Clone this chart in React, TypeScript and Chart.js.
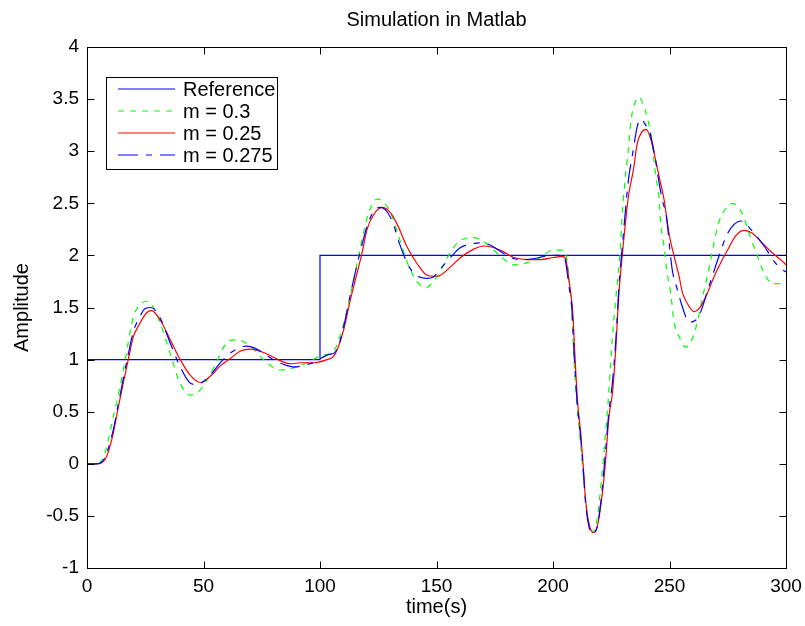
import React, { useEffect, useRef } from "react";
import { Chart, registerables } from "chart.js";

Chart.register(...registerables);

const titleText = "Simulation in Matlab";
const xLabel = "time(s)";
const yLabel = "Amplitude";
const seriesLabels = ["Reference", "m = 0.3", "m = 0.25", "m = 0.275"];
const seriesColors = ["#0000ff", "#00ff00", "#ff0000", "#0000ff"];
const seriesDashes: number[][] = [[], [6, 6], [], [20, 8, 6, 8]];
const xTicks = [0, 50, 100, 150, 200, 250, 300];
const yTicks = [-1, -0.5, 0, 0.5, 1, 1.5, 2, 2.5, 3, 3.5, 4];

const refT = [0, 100, 100, 300];
const refY = [1, 1, 2, 2];

const m30T = [0, 3.5, 7, 11.3, 15.6, 19.9, 22.5, 25.6, 28, 31.4, 35.7, 40, 44.3, 48.6, 54.3, 60, 64.3, 70, 77.2, 82.9, 88.6, 94.4, 100.9, 105.8, 110.2, 114.5, 118, 120.9, 124.5, 127.3, 130.5, 133.8, 138.8, 145.2, 150.3, 156, 160, 166, 171.7, 177.5, 183.2, 189, 194.7, 199.7, 204, 206, 207, 208, 209, 210.3, 211.8, 213, 214.2, 215.4, 217, 218.8, 220.6, 222, 223.5, 225.5, 227, 228.6, 229.8, 231.2, 232.2, 233, 234, 235.5, 237, 238.5, 240.5, 242.6, 243.4, 244.1, 245.5, 246.2, 247.7, 248.8, 250.5, 252, 254.1, 257, 260.6, 264.9, 267.7, 269.9, 272, 274.2, 277, 281, 284.5, 287.8, 290.6, 294.2, 298.6, 300];
const m30Y = [0, 0, 0.06, 0.45, 0.9, 1.41, 1.52, 1.56, 1.52, 1.35, 1.06, 0.77, 0.66, 0.71, 0.92, 1.16, 1.19, 1.13, 0.97, 0.9, 0.92, 0.97, 1.04, 1.08, 1.35, 1.77, 2.15, 2.41, 2.54, 2.51, 2.4, 2.18, 1.86, 1.69, 1.8, 2.03, 2.14, 2.17, 2.11, 1.99, 1.91, 1.93, 1.98, 2.05, 2.05, 1.96, 1.75, 1.5, 1.0, 0.55, 0.2, -0.1, -0.4, -0.58, -0.65, -0.55, -0.2, 0.15, 0.55, 1.22, 1.6, 1.98, 2.42, 2.79, 2.98, 3.2, 3.37, 3.48, 3.52, 3.46, 3.32, 3.08, 2.9, 2.76, 2.55, 2.31, 2.08, 1.86, 1.64, 1.35, 1.22, 1.12, 1.25, 1.67, 1.96, 2.21, 2.37, 2.45, 2.5, 2.41, 2.19, 1.99, 1.83, 1.73, 1.73, 1.74];

const m25T = [0, 4, 7.7, 10.6, 13.5, 15.6, 17.7, 19.9, 22, 25.6, 27.7, 31.4, 35.7, 40, 44.3, 48.6, 52.9, 57.2, 61.5, 65.7, 70, 74.3, 78.6, 82.9, 87.2, 91.5, 97.2, 103, 105.8, 108, 110.2, 113, 115.9, 118, 120.2, 123, 126.6, 130.2, 133.1, 137.4, 141.7, 146, 150.3, 156, 160.3, 166, 170.3, 177.5, 183.2, 189, 194.7, 200.3, 204, 205.4, 206.1, 206.8, 207.6, 208.5, 209.3, 210.5, 211.9, 213, 214, 215.4, 217.2, 219, 221.2, 222.6, 224, 225.5, 226.9, 228.3, 229.8, 232.4, 234.5, 236.2, 238, 240, 241.9, 244, 245.5, 247.7, 249.8, 252, 254.1, 255.6, 258.4, 260.6, 263.4, 266.3, 269.2, 272, 274.9, 278.5, 282.1, 285.7, 289.3, 292.9, 298.6, 300];
const m25Y = [0, 0, 0.04, 0.23, 0.55, 0.78, 1.0, 1.22, 1.32, 1.45, 1.47, 1.38, 1.19, 1.0, 0.85, 0.78, 0.84, 0.94, 1.01, 1.08, 1.1, 1.08, 1.04, 0.99, 0.96, 0.97, 0.97, 1.0, 1.03, 1.13, 1.29, 1.57, 1.83, 2.02, 2.25, 2.39, 2.46, 2.41, 2.3, 2.08, 1.92, 1.81, 1.8, 1.89, 1.98, 2.06, 2.09, 2.05, 1.98, 1.96, 1.96, 1.98, 1.99, 1.97, 1.89, 1.77, 1.64, 1.45, 1.09, 0.61, 0.29, -0.03, -0.35, -0.57, -0.66, -0.6, -0.28, 0.04, 0.45, 0.68, 1.09, 1.64, 2.02, 2.57, 2.82, 3.08, 3.18, 3.21, 3.12, 2.92, 2.76, 2.53, 2.21, 1.99, 1.8, 1.64, 1.51, 1.46, 1.51, 1.64, 1.8, 1.93, 2.05, 2.19, 2.24, 2.21, 2.13, 2.05, 1.94, 1.91];

const m275T = [0, 4, 7.5, 11, 13.5, 15.6, 17.7, 19.9, 22, 25, 27.5, 31.4, 35.7, 40, 44, 47, 50, 54, 58, 62, 66, 68.6, 72, 76, 80, 85, 89, 94, 98, 101, 104, 106, 108, 110.2, 113, 116, 118, 120.5, 123, 125.5, 128, 131, 134, 138, 142, 146, 148.5, 152, 156, 160, 164.5, 168.9, 173, 178, 183, 188, 192, 196, 200, 204, 205.3, 206, 207, 208, 209, 210.4, 211.9, 213, 214, 215.4, 217.2, 219, 221, 222.4, 224, 225.5, 227, 228.3, 229.8, 232.4, 234, 236.2, 237.8, 239.5, 241.4, 243.5, 245.5, 247, 248.5, 251.2, 253.4, 255.6, 258.4, 261.3, 263.4, 266.9, 271.2, 274.9, 280.6, 284.9, 290.6, 295, 297, 300];
const m275Y = [0, 0, 0.05, 0.3, 0.58, 0.82, 1.05, 1.27, 1.38, 1.49, 1.5, 1.4, 1.16, 0.93, 0.78, 0.76, 0.79, 0.88, 0.99, 1.07, 1.12, 1.13, 1.11, 1.06, 1.0, 0.95, 0.93, 0.95, 0.98, 1.02, 1.05, 1.06, 1.14, 1.32, 1.62, 1.92, 2.1, 2.3, 2.42, 2.46, 2.44, 2.33, 2.12, 1.9, 1.8, 1.78, 1.79, 1.88, 1.98, 2.07, 2.11, 2.12, 2.1, 2.03, 1.97, 1.96, 1.97, 1.99, 2.0, 2.0, 1.95, 1.85, 1.68, 1.52, 1.08, 0.58, 0.25, -0.06, -0.38, -0.6, -0.67, -0.6, -0.27, 0.08, 0.5, 0.78, 1.2, 1.7, 2.1, 2.73, 2.95, 3.24, 3.31, 3.26, 3.19, 2.98, 2.7, 2.52, 2.4, 1.86, 1.67, 1.5, 1.36, 1.38, 1.46, 1.7, 1.99, 2.21, 2.33, 2.25, 2.09, 1.94, 1.89, 1.84];

const FONT = '"Liberation Sans", Arial, Helvetica, sans-serif';
const LINE_W = 1.2;

function pts(t: number[], y: number[]) {
  return t.map((x, i) => ({ x, y: y[i] }));
}

const framePlugin = {
  id: "matlabFrame",
  afterDraw(chart: any) {
    const { ctx, chartArea: a, scales } = chart;
    const L = Math.round(a.left) + 0.5;
    const R = Math.round(a.right) + 0.5;
    const T = Math.round(a.top) + 0.5;
    const B = Math.round(a.bottom) + 0.5;
    ctx.save();
    ctx.strokeStyle = "#000";
    ctx.lineWidth = 1;
    ctx.setLineDash([]);
    ctx.strokeRect(L, T, R - L, B - T);
    const len = 7;
    ctx.beginPath();
    for (const v of xTicks) {
      const x = Math.round(scales.x.getPixelForValue(v)) + 0.5;
      ctx.moveTo(x, B);
      ctx.lineTo(x, B - len);
      ctx.moveTo(x, T);
      ctx.lineTo(x, T + len);
    }
    for (const v of yTicks) {
      const y = Math.round(scales.y.getPixelForValue(v)) + 0.5;
      ctx.moveTo(L, y);
      ctx.lineTo(L + len, y);
      ctx.moveTo(R, y);
      ctx.lineTo(R - len, y);
    }
    ctx.stroke();

    ctx.fillStyle = "#000";
    ctx.textAlign = "center";
    ctx.textBaseline = "middle";
    ctx.font = `20px ${FONT}`;
    const cx = (a.left + a.right) / 2;
    ctx.fillText(titleText, cx, 20);
    ctx.fillText(xLabel, cx, 607);
    ctx.save();
    ctx.translate(22, (a.top + a.bottom) / 2);
    ctx.rotate(-Math.PI / 2);
    ctx.fillText(yLabel, 0, 0);
    ctx.restore();

    // legend
    const bx = 106.5, by = 77.5, bw = 171, bh = 92;
    ctx.fillStyle = "#fff";
    ctx.fillRect(bx, by, bw, bh);
    ctx.strokeStyle = "#000";
    ctx.lineWidth = 1;
    ctx.strokeRect(bx, by, bw, bh);
    ctx.textAlign = "left";
    ctx.font = `20px ${FONT}`;
    seriesLabels.forEach((label, i) => {
      const y = 89 + i * 22;
      ctx.beginPath();
      ctx.strokeStyle = seriesColors[i];
      ctx.lineWidth = LINE_W;
      ctx.setLineDash(seriesDashes[i]);
      ctx.moveTo(118, y);
      ctx.lineTo(175, y);
      ctx.stroke();
      ctx.setLineDash([]);
      ctx.fillStyle = "#000";
      ctx.fillText(label, 183, y + 1);
    });
    ctx.restore();
  },
};

export default function App() {
  const ref = useRef<HTMLCanvasElement | null>(null);
  useEffect(() => {
    if (!ref.current) return;
    const series = [pts(refT, refY), pts(m30T, m30Y), pts(m25T, m25Y), pts(m275T, m275Y)];
    const chart = new Chart(ref.current, {
      type: "line",
      data: {
        datasets: series.map((data, i) => ({
          label: seriesLabels[i],
          data,
          borderColor: seriesColors[i],
          borderWidth: LINE_W,
          borderDash: seriesDashes[i],
          pointRadius: 0,
          tension: 0,
          cubicInterpolationMode: i === 0 ? "default" : "monotone",
          order: 4 - i,
        })) as any,
      },
      options: {
        animation: false,
        responsive: false,
        devicePixelRatio: 1,
        layout: { padding: { left: 0, right: 19, top: 47, bottom: 0 } },
        plugins: {
          legend: { display: false },
          title: { display: false },
          tooltip: { enabled: false },
        },
        scales: {
          x: {
            type: "linear",
            min: 0,
            max: 300,
            afterBuildTicks: (s: any) => {
              s.ticks = xTicks.map((v) => ({ value: v }));
            },
            afterFit: (s: any) => {
              s.height = 58;
              s.paddingLeft = 0;
              s.paddingRight = 0;
            },
            ticks: {
              color: "#000",
              font: { family: FONT, size: 19 },
              padding: 7,
              maxRotation: 0,
              callback: (v: any) => String(v),
            },
            grid: { display: false, drawTicks: false },
            border: { display: false },
          },
          y: {
            type: "linear",
            min: -1,
            max: 4,
            afterBuildTicks: (s: any) => {
              s.ticks = yTicks.map((v) => ({ value: v }));
            },
            afterFit: (s: any) => {
              s.width = 87;
              s.paddingTop = 0;
              s.paddingBottom = 0;
            },
            ticks: {
              color: "#000",
              font: { family: FONT, size: 19 },
              padding: 8,
              callback: (v: any) => String(v),
            },
            grid: { display: false, drawTicks: false },
            border: { display: false },
          },
        },
      },
      plugins: [framePlugin],
    });
    return () => chart.destroy();
  }, []);
  return (
    <div style={{ position: "fixed", left: 0, top: 0, width: 805, height: 626, background: "#fff" }}>
      <canvas ref={ref} width={805} height={626} style={{ width: 805, height: 626 }} />
    </div>
  );
}
